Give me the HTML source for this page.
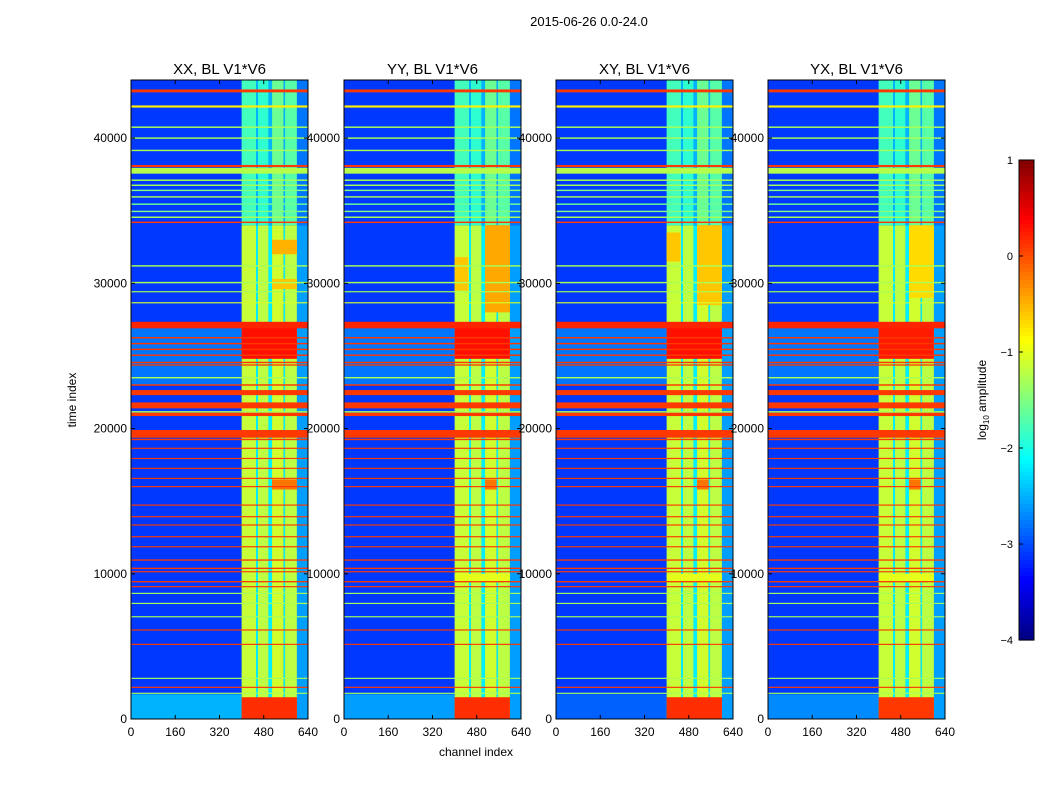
<!DOCTYPE html>
<html><head><meta charset="utf-8"><style>
body{margin:0;background:#fff;}
svg text{font-family:"Liberation Sans",sans-serif;fill:#000;}
</style></head><body>
<svg id="fig" width="1050" height="800" xmlns="http://www.w3.org/2000/svg"></svg>
<script>
// ---- data ----
const panelTitles = ["XX, BL V1*V6","YY, BL V1*V6","XY, BL V1*V6","YX, BL V1*V6"];
const xTicks = [0,160,320,480,640];
const yTicks = [0,10000,20000,30000,40000];
const cbTicks = [1,0,-1,-2,-3,-4];
const backgroundValue = -3.1;
// RFI channel stripes: [chStart, chEnd, valueLow(t<34000), valueHigh(t>=34000)]
const rfiStripes = [[400,452,-1.15,-1.8],[452,459,-2.2,-2.5],[459,497,-1.2,-1.9],[497,510,-2.2,-2.5],[510,552,-1.1,-1.6],[552,557,-2.2,-2.5],[557,600,-1.2,-1.7],[600,640,-2.6,-2.8]];
// full-width horizontal bands: [tStart, tEnd, value]
const rowBands = [[43150,43350,0.1],[42100,42250,-0.8],[40700,40800,-1.3],[39950,40050,-1.3],[39100,39200,-1.3],[38000,38150,0.1],[37550,37950,-1.25],[37050,37150,-1.3],
[36700,36800,-1.3],[36350,36450,-1.5],[35900,36000,-1.3],[35400,35500,-1.6],[34900,35000,-1.5],[34500,34600,-1.3],[34150,34250,0.1],
[31150,31250,-1.3],[30000,30100,-1.3],[29380,29460,-1.3],[28620,28700,-1.1],[26900,27350,0.2],[26200,26300,0.1],[25800,25900,0.1],[25400,25500,0.1],[25000,25100,0.1],[24500,24600,0.1],
[24330,24420,0.1],[23450,23550,-1.3],[22950,23050,0.1],[22300,22650,0.1],[21700,21800,0.1],[21390,21780,0.1],[21100,21200,-1.3],[20860,21090,0.1],
[19370,19900,0.1],[19200,19300,0.1],[18600,18680,0.1],[17900,17980,0.1],[17220,17300,0.1],[16530,16610,0.1],[15960,16040,0.1],[14690,14770,0.1],
[13890,13970,0.1],[13320,13400,0.1],[12510,12590,0.1],[11820,11900,0.1],[10900,10990,0.1],[10330,10420,0.1],[10100,10180,0.1],[9410,9500,0.1],[9070,9150,0.1],
[8610,8690,-1.3],[7920,8000,-1.3],[7000,7080,-1.3],[6090,6170,0.1],[5100,5180,0.1],[2760,2840,-1.3],[2140,2220,0.1],[1730,1810,-1.3]];
// panel-specific blobs: [tStart, tEnd, chStart, chEnd, value]
const blobsXX = [[23000,27000,0,400,-2.8],[0,1700,0,400,-2.5],[24800,27000,400,600,0.3],[32000,33000,510,600,-0.5],[29600,30300,510,600,-0.6],[15800,16500,510,600,-0.2],[0,1500,400,600,0.15]];
const blobsYY = [[23000,27000,0,400,-2.8],[0,1700,0,400,-2.6],[24800,27000,400,600,0.3],[28000,34000,510,600,-0.45],[29500,31800,400,450,-0.6],[15800,16500,510,552,-0.2],[9400,10000,400,600,-1.0],[0,1500,400,600,0.15]];
const blobsXY = [[23000,27000,0,400,-2.8],[0,1700,0,400,-2.9],[24800,27000,400,600,0.3],[28500,34000,510,600,-0.6],[31500,33500,400,450,-0.6],[15800,16500,510,552,-0.2],[9400,10000,400,600,-1.0],[0,1500,400,600,0.15]];
const blobsYX = [[23000,27000,0,400,-2.8],[0,1700,0,400,-2.7],[24800,27000,400,600,0.25],[29000,34000,510,600,-0.7],[15800,16500,510,552,-0.2],[9400,10000,400,600,-1.0],[0,1500,400,600,0.1]];
const panelBlobs = [blobsXX,blobsYY,blobsXY,blobsYX];

// ---- layout ----
const NS="http://www.w3.org/2000/svg";
const svg=document.getElementById('fig');
const panelX=[131,344,556,768], PW=177, PT=80, PB=719, TMAX=44000, CMAX=640;
function yS(t){return PB-(t/TMAX)*(PB-PT);}
function xS(px,c){return px+(c/CMAX)*PW;}
function jet(v){const x=Math.max(0,Math.min(1,(v+4)/5));const c=k=>Math.round(255*Math.max(0,Math.min(1,1.5-Math.abs(4*x-k))));return `rgb(${c(3)},${c(2)},${c(1)})`;}
function mk(tag,attrs,parent){const e=document.createElementNS(NS,tag);for(const k in attrs)e.setAttribute(k,attrs[k]);(parent||svg).appendChild(e);return e;}
function txt(x,y,s,size,anchor,parent){const e=mk('text',{x:x,y:y,'font-size':size,'text-anchor':anchor||'middle'},parent);e.textContent=s;return e;}
function cell(g,px,t0,t1,c0,c1,v){mk('rect',{x:xS(px,c0),y:yS(t1),width:xS(px,c1)-xS(px,c0),height:Math.max(0.8,yS(t0)-yS(t1)),fill:jet(v)},g);}

const sup=txt(589,26,"2015-06-26 0.0-24.0",13);



panelX.forEach((px,i)=>{
  const g=mk('g',{});
  
  
  cell(g,px,0,TMAX,0,CMAX,backgroundValue);
  rfiStripes.forEach(s=>{cell(g,px,0,34000,s[0],s[1],s[2]);cell(g,px,34000,TMAX,s[0],s[1],s[3]);});
  panelBlobs[i].forEach(b=>cell(g,px,b[0],b[1],b[2],b[3],b[4]));
  rowBands.forEach(r=>cell(g,px,r[0],r[1],0,CMAX,r[2]));
  mk('rect',{x:px,y:PT,width:PW,height:PB-PT,fill:'none',stroke:'#000','stroke-width':1},g);
  const t=txt(px+PW/2,74,panelTitles[i],15);
  
  
  xTicks.forEach(v=>{
    const x=xS(px,v);
    mk('line',{x1:x,x2:x,y1:PB,y2:PB-4,stroke:'#000'},g);
    mk('line',{x1:x,x2:x,y1:PT,y2:PT+4,stroke:'#000'},g);
    const l=txt(x,736,String(v),12);
    
    
  });
  yTicks.forEach(v=>{
    const y=yS(v);
    mk('line',{x1:px,x2:px+4,y1:y,y2:y,stroke:'#000'},g);
    mk('line',{x1:px+PW,x2:px+PW-4,y1:y,y2:y,stroke:'#000'},g);
    const l=txt(px-4,y+4,String(v),12,'end');
    
    
  });
});
const yl=txt(0,0,"time index",12);
yl.setAttribute('transform','translate(76,400) rotate(-90)');


const xl=txt(476,756,"channel index",12);



// colorbar
const cb=mk('g',{});


const CB0=160,CB1=640,CBX=1019,CBW=15;
for(let k=0;k<120;k++){const v=1-5*(k+0.5)/120;mk('rect',{x:CBX,y:CB0+k*(CB1-CB0)/120,width:CBW,height:(CB1-CB0)/120+0.6,fill:jet(v)},cb);}
mk('rect',{x:CBX,y:CB0,width:CBW,height:CB1-CB0,fill:'none',stroke:'#000'},cb);
cbTicks.forEach(v=>{const y=CB0+(1-v)/5*(CB1-CB0);mk('line',{x1:CBX,x2:CBX+4,y1:y,y2:y,stroke:'#000'},cb);
  const l=txt(1013,y+4,v<0?'\u2212'+(-v):String(v),11,'end');
  
  });
const cl=mk('text',{transform:'translate(986,400) rotate(-90)','font-size':12,'text-anchor':'middle'});
cl.innerHTML='log<tspan font-size="8" dy="3">10</tspan><tspan dy="-3"> amplitude</tspan>';


</script>
</body></html>
